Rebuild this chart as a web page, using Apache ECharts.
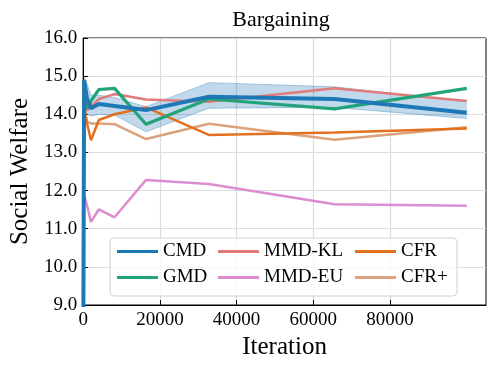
<!DOCTYPE html>
<html>
<head>
<meta charset="utf-8">
<title>Bargaining</title>
<script src="https://cdn.jsdelivr.net/npm/echarts@6/dist/echarts.min.js"></script>
<style>
  html, body { margin: 0; padding: 0; background: #fff; }
  #chart { width: 498px; height: 371px; }
</style>
</head>
<body>
<div id="chart"></div>
<script>
  // iterations where every method was evaluated
  var iterations = [1, 256, 1024, 2048, 4096, 8192, 16384, 32768, 65536, 100000];

  var cmd    = [7.0, 14.9, 14.4, 14.16, 14.27, 14.22, 14.11, 14.46, 14.40, 14.04];
  var cmdLow = [null, 14.3, 14.0, 13.95, 14.0, 13.98, 13.54, 14.16, 14.18, 13.89];
  var cmdUp  = [null, 15.0, 14.8, 14.5, 14.5, 14.44, 14.2, 14.83, 14.72, 14.33];
  var gmd    = [14.35, 14.3, 14.15, 14.35, 14.65, 14.68, 13.74, 14.40, 14.14, 14.68];
  var mmdKL  = [14.85, 14.7, 14.1, 14.2, 14.4, 14.53, 14.39, 14.33, 14.68, 14.35];
  var mmdEU  = [11.95, 11.88, 11.6, 11.18, 11.51, 11.30, 12.28, 12.17, 11.64, 11.60];
  var cfr    = [14.8, 14.2, 13.75, 13.32, 13.85, 14.0, 14.18, 13.46, 13.52, 13.63];
  var cfrPlus = [14.4, 14.1, 13.8, 13.76, 13.76, 13.74, 13.35, 13.75, 13.33, 13.66];

  var xTicks = [0, 20000, 40000, 60000, 80000];

  function pairs(vals) {
    var out = [];
    for (var i = 0; i < iterations.length; i++) {
      if (vals[i] != null) out.push([iterations[i], vals[i]]);
    }
    return out;
  }

  // one band segment per pair of neighbouring points: [x0, lo0, up0, x1, lo1, up1]
  var bandSegs = [];
  for (var i = 0; i < iterations.length - 1; i++) {
    if (cmdLow[i] == null || cmdLow[i + 1] == null) continue;
    bandSegs.push([iterations[i], cmdLow[i], cmdUp[i], iterations[i + 1], cmdLow[i + 1], cmdUp[i + 1]]);
  }

  var font = '"Liberation Serif", "DejaVu Serif", serif';
  var colors = {
    'CMD': '#1f78b6',
    'GMD': '#23a37a',
    'MMD-KL': '#e07b7b',
    'MMD-EU': '#db8dd0',
    'CFR': '#e2701f',
    'CFR+': '#dba27c'
  };

  function line(name, vals, width, z) {
    return {
      name: name,
      type: 'line',
      data: pairs(vals),
      showSymbol: false,
      symbol: 'none',
      z: z || 2,
      color: colors[name],
      lineStyle: { width: width, color: colors[name] },
      emphasis: { disabled: true }
    };
  }

  function legendCol(names, left) {
    return {
      orient: 'vertical',
      left: left,
      top: 242,
      padding: 0,
      itemGap: 7,
      itemWidth: 41,
      itemHeight: 3,
      icon: 'rect',
      selectedMode: false,
      data: names,
      textStyle: { fontFamily: font, fontSize: 19, color: '#000', lineHeight: 19 }
    };
  }

  var chart = echarts.init(document.getElementById('chart'), null, { renderer: 'canvas' });

  var option = {
    backgroundColor: '#fff',
    animation: false,
    title: {
      text: 'Bargaining',
      left: 281,
      top: 9,
      textAlign: 'center',
      padding: 0,
      textStyle: { fontFamily: font, fontSize: 22, fontWeight: 'normal', color: '#000' }
    },
    grid: {
      left: 81, right: 12, top: 38, bottom: 66,
      show: true, borderColor: '#000', borderWidth: 1, backgroundColor: 'transparent'
    },
    legend: [
      legendCol(['CMD', 'GMD'], 117),
      legendCol(['MMD-KL', 'MMD-EU'], 218),
      legendCol(['CFR', 'CFR+'], 355)
    ],
    graphic: [{
      type: 'rect',
      z: 3,
      shape: { x: 110, y: 238, width: 347, height: 58, r: 4 },
      style: { fill: 'rgba(255,255,255,0.8)', stroke: '#d0d0d0', lineWidth: 1 }
    }],
    xAxis: {
      type: 'value',
      min: 0,
      max: 105000,
      interval: 20000,
      name: 'Iteration',
      nameLocation: 'middle',
      nameGap: 30,
      nameTextStyle: { fontFamily: font, fontSize: 25, color: '#000' },
      axisLine: { lineStyle: { color: '#000', width: 1 } },
      axisTick: { inside: true, length: 5, lineStyle: { color: '#000' }, customValues: xTicks },
      axisLabel: {
        fontFamily: font, fontSize: 19, color: '#000', margin: 6, customValues: xTicks,
        formatter: function (v) { return String(v); }
      },
      splitLine: { show: true, lineStyle: { color: '#dcdcdc', width: 1.2 } }
    },
    yAxis: {
      type: 'value',
      min: 9,
      max: 16,
      interval: 1,
      name: 'Social Welfare',
      nameLocation: 'middle',
      nameGap: 46,
      nameTextStyle: { fontFamily: font, fontSize: 25, color: '#000' },
      axisLine: { show: true, lineStyle: { color: '#000', width: 1 } },
      axisTick: { show: true, inside: true, length: 5, lineStyle: { color: '#000' } },
      axisLabel: {
        fontFamily: font, fontSize: 19, color: '#000', margin: 6,
        formatter: function (v) { return v.toFixed(1); }
      },
      splitLine: { show: true, lineStyle: { color: '#dcdcdc', width: 1.2 } }
    },
    series: [
      {
        name: 'cmd-band',
        type: 'custom',
        z: 1,
        silent: true,
        clip: true,
        data: bandSegs,
        renderItem: function (params, api) {
          var a = api.coord([api.value(0), api.value(1)]);
          var b = api.coord([api.value(0), api.value(2)]);
          var c = api.coord([api.value(3), api.value(5)]);
          var d = api.coord([api.value(3), api.value(4)]);
          return {
            type: 'group',
            children: [{
              type: 'polygon',
              shape: { points: [a, b, c, d] },
              style: { fill: 'rgba(31,120,182,0.28)', stroke: null }
            }, {
              type: 'polyline',
              shape: { points: [a, d] },
              style: { stroke: 'rgba(31,120,182,0.35)', lineWidth: 1, fill: null }
            }, {
              type: 'polyline',
              shape: { points: [b, c] },
              style: { stroke: 'rgba(31,120,182,0.35)', lineWidth: 1, fill: null }
            }]
          };
        }
      },
      line('MMD-KL', mmdKL, 2.5),
      line('CFR+', cfrPlus, 2.5),
      line('CFR', cfr, 2.5),
      line('MMD-EU', mmdEU, 2.5),
      line('GMD', gmd, 3.2),
      line('CMD', cmd, 4, 3)
    ]
  };

  chart.setOption(option);
</script>
</body>
</html>
